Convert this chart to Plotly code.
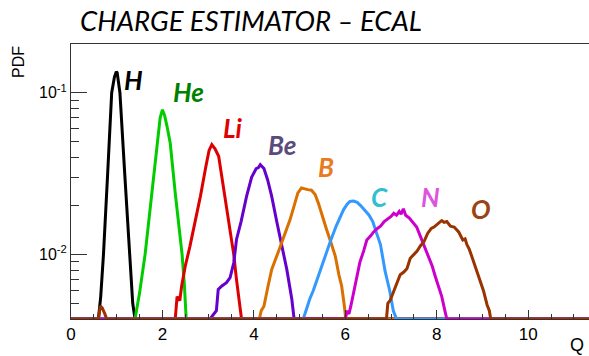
import numpy as np
import plotly.graph_objects as go

# ---------------- data ----------------
Q_LO, Q_HI = 0.0, 12.0          # histogram range (empty bins drawn on the frame bottom)
YMIN, YMAX = 0.004, 0.2          # y-axis range (log)
XMAX = 11.33                     # visible x range

elements = ["H", "He", "Li", "Be", "B", "C", "N", "O"]

q_H = [0.60, 0.65, 0.71, 0.80, 0.89, 0.95, 0.99, 1.01, 1.04, 1.07, 1.18, 1.28, 1.35, 1.40]
pdf_H = [0.004, 0.0055, 0.010, 0.031, 0.10, 0.125, 0.135, 0.133, 0.118, 0.10, 0.030, 0.010, 0.0050, 0.004]

q_He = [1.40, 1.50, 1.62, 1.70, 1.77, 1.88, 1.95, 2.00, 2.05, 2.10, 2.17, 2.28, 2.36, 2.43, 2.48, 2.52]
pdf_He = [0.004, 0.0058, 0.010, 0.016, 0.024, 0.049, 0.070, 0.0785, 0.072, 0.062, 0.049, 0.024, 0.015, 0.010, 0.0065, 0.004]

q_Li = [2.28, 2.32, 2.38, 2.42, 2.50, 2.60, 2.72, 2.83, 2.95, 3.02, 3.08, 3.15, 3.23, 3.30, 3.37, 3.48, 3.56, 3.62, 3.70, 3.73]
pdf_Li = [0.004, 0.0055, 0.0052, 0.0064, 0.0085, 0.0112, 0.016, 0.0229, 0.035, 0.044, 0.0478, 0.045, 0.0405, 0.030, 0.0229, 0.0143, 0.010, 0.0070, 0.0046, 0.004]

q_Be = [3.04, 3.18, 3.22, 3.30, 3.40, 3.48, 3.56, 3.62, 3.72, 3.84, 3.95, 4.05, 4.10, 4.14, 4.18, 4.22, 4.30, 4.39, 4.50, 4.58, 4.66, 4.72, 4.83, 4.88]
pdf_Be = [0.004, 0.0045, 0.0061, 0.0064, 0.0067, 0.0072, 0.0089, 0.0124, 0.016, 0.0229, 0.030, 0.034, 0.0345, 0.0359, 0.0350, 0.034, 0.029, 0.0229, 0.016, 0.0127, 0.0098, 0.0081, 0.0053, 0.004]

q_B = [4.12, 4.16, 4.22, 4.30, 4.39, 4.54, 4.68, 4.79, 4.88, 4.96, 5.04, 5.10, 5.18, 5.26, 5.34, 5.41, 5.50, 5.59, 5.68, 5.78, 5.86, 5.92, 5.98, 6.01]
pdf_B = [0.004, 0.0045, 0.0048, 0.0062, 0.0081, 0.0105, 0.0135, 0.0164, 0.020, 0.024, 0.0258, 0.0255, 0.0252, 0.025, 0.0235, 0.0208, 0.017, 0.0143, 0.012, 0.0098, 0.0075, 0.0064, 0.0048, 0.004]

q_C = [5.08, 5.15, 5.22, 5.30, 5.38, 5.45, 5.55, 5.67, 5.80, 5.90, 5.96, 6.04, 6.10, 6.18, 6.26, 6.34, 6.45, 6.52, 6.60, 6.68, 6.77, 6.87, 6.97, 7.05, 7.12]
pdf_C = [0.004, 0.0046, 0.0053, 0.006, 0.0070, 0.0079, 0.0095, 0.0120, 0.015, 0.0175, 0.0189, 0.0205, 0.0213, 0.0214, 0.021, 0.020, 0.0185, 0.0175, 0.016, 0.0135, 0.0115, 0.0079, 0.0060, 0.0045, 0.004]

q_N = [6.00, 6.04, 6.08, 6.12, 6.18, 6.25, 6.32, 6.40, 6.47, 6.55, 6.62, 6.70, 6.77, 6.85, 6.92, 7.00, 7.06, 7.12, 7.18, 7.22, 7.27, 7.32, 7.40, 7.49, 7.56, 7.64, 7.72, 7.82, 7.90, 7.97, 8.05, 8.11, 8.17, 8.22]
pdf_N = [0.004, 0.0045, 0.0043, 0.0048, 0.0058, 0.0076, 0.0090, 0.0105, 0.0123, 0.0130, 0.0138, 0.0145, 0.0150, 0.0160, 0.0165, 0.0172, 0.018, 0.0175, 0.0185, 0.0178, 0.0192, 0.0175, 0.0168, 0.0157, 0.0148, 0.0130, 0.0115, 0.0098, 0.0085, 0.0073, 0.0062, 0.0055, 0.0046, 0.004]

q_O = [0.60, 0.64, 0.68, 0.74, 0.78, 6.90, 6.93, 6.98, 7.05, 7.13, 7.20, 7.28, 7.35, 7.42, 7.50, 7.57, 7.64, 7.72, 7.80, 7.88, 7.94, 8.00, 8.06, 8.11, 8.16, 8.22, 8.30, 8.38, 8.48, 8.57, 8.62, 8.66, 8.71, 8.78, 8.87, 8.95, 9.02, 9.10, 9.15, 9.18]
pdf_O = [0.004, 0.0048, 0.0047, 0.0043, 0.004, 0.004, 0.0050, 0.0052, 0.0058, 0.0066, 0.0075, 0.0078, 0.0082, 0.0095, 0.0100, 0.0105, 0.0113, 0.012, 0.0135, 0.0145, 0.0148, 0.0152, 0.0158, 0.0162, 0.0158, 0.0160, 0.0150, 0.0148, 0.0138, 0.0123, 0.0125, 0.0115, 0.0108, 0.0095, 0.0080, 0.0068, 0.0060, 0.0049, 0.0045, 0.004]

line_colors = ["#000000", "#00cc00", "#dd0000", "#6600cc", "#d97000", "#3399ff", "#cc00cc", "#993300"]
label_colors = ["#000000", "#008000", "#e00000", "#5b4b7d", "#ea7a1e", "#33bfd0", "#dd55dd", "#994411"]
label_q = [1.36, 2.56, 3.54, 4.62, 5.58, 6.74, 7.86, 8.97]
label_pdf = [0.120, 0.101, 0.0608, 0.0478, 0.0349, 0.0228, 0.0228, 0.0192]

x_ticks = [0, 2, 4, 6, 8, 10]
y_ticks = [0.01, 0.1]
y_ticktext = ["10<sup>-2</sup>", "10<sup>-1</sup>"]
y_minor = [0.004, 0.005, 0.006, 0.007, 0.008, 0.009,
           0.02, 0.03, 0.04, 0.05, 0.06, 0.07, 0.08, 0.09, 0.2]

series_q = [q_H, q_He, q_Li, q_Be, q_B, q_C, q_N, q_O]
series_pdf = [pdf_H, pdf_He, pdf_Li, pdf_Be, pdf_B, pdf_C, pdf_N, pdf_O]

# ---------------- figure ----------------
W, H = 589, 356
ML, MR, MT, MB = 71, 0, 44, 37
fig = go.Figure()

for name, q, v, col in zip(elements, series_q, series_pdf, line_colors):
    xs = [Q_LO] + list(q) + [Q_HI]
    ys = np.maximum(np.array([0.0] + list(v) + [0.0]), YMIN)  # empty bins on the frame bottom
    fig.add_trace(go.Scatter(x=xs, y=ys, mode="lines", name=name,
                             line=dict(color=col, width=3), showlegend=False,
                             hoverinfo="skip"))

for name, q, v, col in zip(elements, label_q, label_pdf, label_colors):
    fig.add_annotation(x=q, y=np.log10(v), xref="x", yref="y", text=f"<b><i>{name}</i></b>",
                       showarrow=False, xanchor="center", yanchor="middle",
                       font=dict(family="Lato", size=26, color=col))

pw = W - ML - MR
ph = H - MT - MB
def px(x):
    return (x - ML) / pw
def py(y):
    return (H - MB - y) / ph

fig.add_annotation(x=px(251), y=py(21), xref="paper", yref="paper",
                   text="<i>CHARGE ESTIMATOR – ECAL</i>", showarrow=False,
                   xanchor="center", yanchor="middle",
                   font=dict(family="Lato", size=27.5, color="#000000"))
fig.add_annotation(x=px(19), y=py(62), xref="paper", yref="paper", text="PDF",
                   textangle=-90, showarrow=False, xanchor="center", yanchor="middle",
                   font=dict(family="Liberation Sans", size=16, color="#000000"))
fig.add_annotation(x=px(577), y=py(345), xref="paper", yref="paper", text="Q",
                   showarrow=False, xanchor="center", yanchor="middle",
                   font=dict(family="Liberation Sans", size=18, color="#000000"))

fig.update_layout(
    width=W, height=H, margin=dict(l=ML, r=MR, t=MT, b=MB),
    paper_bgcolor="white", plot_bgcolor="white",
    xaxis=dict(range=[0, XMAX], showgrid=False, zeroline=False,
               showline=True, linecolor="#333333", linewidth=1, mirror=True,
               ticks="inside", tickvals=x_ticks, ticklen=9, tickcolor="#333333",
               minor=dict(ticks="inside", ticklen=5, dtick=0.5, tick0=0, tickcolor="#333333"),
               tickfont=dict(family="Liberation Sans", size=17, color="#000000")),
    yaxis=dict(type="log", range=[np.log10(YMIN), np.log10(YMAX)], showgrid=False,
               zeroline=False, showline=True, linecolor="#333333", linewidth=1,
               ticks="inside", tickvals=y_ticks, ticktext=y_ticktext, ticklen=16,
               tickcolor="#333333",
               minor=dict(ticks="inside", ticklen=8, tickmode="array", tickvals=y_minor,
                          tickcolor="#333333"),
               tickfont=dict(family="Liberation Sans", size=16, color="#000000")),
)

fig.write_html("out.html")
